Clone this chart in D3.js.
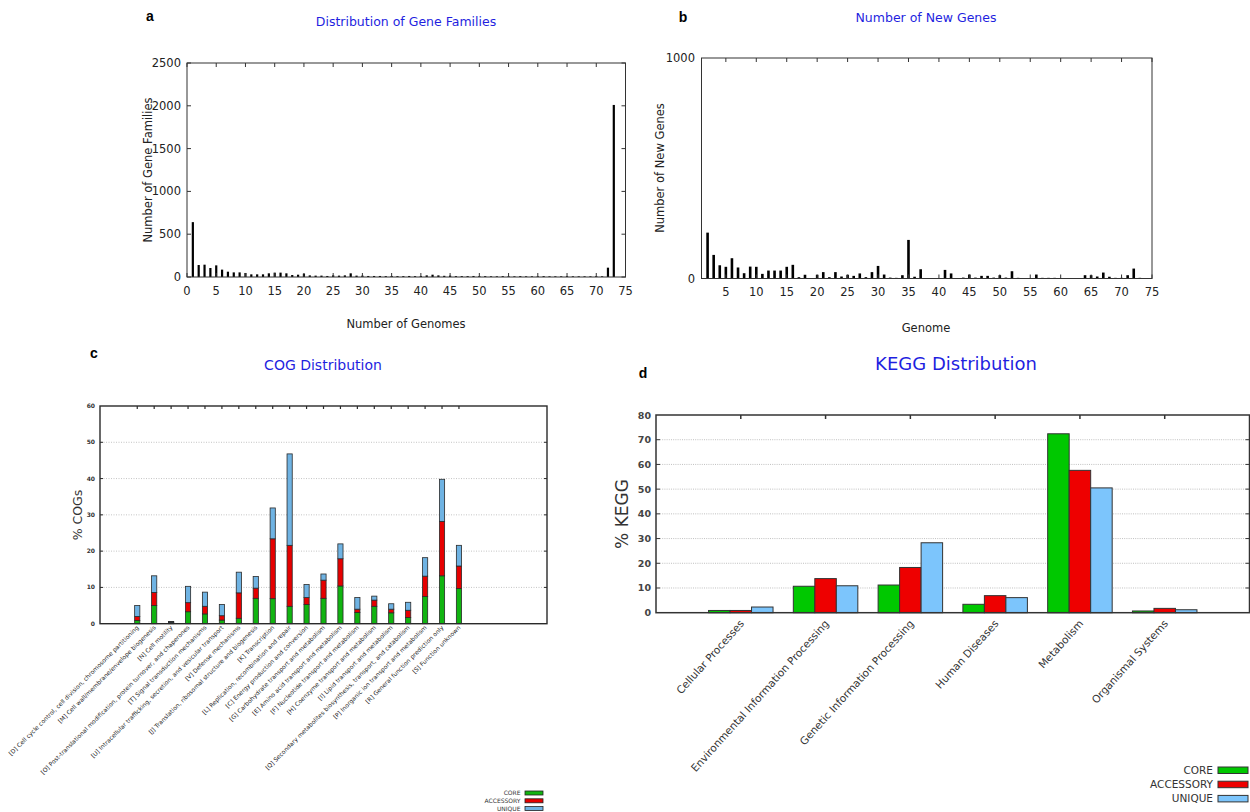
<!DOCTYPE html>
<html>
<head>
<meta charset="utf-8">
<script src="https://cdn.jsdelivr.net/npm/d3@7"></script>
<style>
body { margin: 0; background: #fff; }
text { font-family: "DejaVu Sans", sans-serif; }
</style>
</head>
<body>
<div id="chart"></div>
<script>
// ---- data ----
// a: number of gene families shared by n genomes (n = 1..73)
var familyCounts = [641, 140, 144, 105, 136, 86, 62, 54, 54, 47,
                    31, 31, 31, 43, 51, 51, 43, 23, 27, 39,
                    19, 16, 16, 12, 19, 16, 19, 43, 16, 16,
                    12, 12, 12, 10, 12, 10, 10, 12, 10, 12,
                    19, 27, 19, 14, 16, 10, 10, 10, 12, 10,
                    10, 8, 8, 10, 8, 8, 10, 8, 8, 8,
                    10, 8, 8, 8, 10, 8, 8, 8, 8, 10,
                    8, 109, 2010];
// b: new genes added by genome n (n = 2..73)
var newGenes = [208, 107, 60, 53, 92, 50, 24, 54, 53, 21,
                36, 36, 36, 53, 62, 6, 17, 0, 17, 29,
                6, 29, 9, 17, 12, 23, 6, 29, 57, 18,
                4, 3, 15, 175, 8, 42, 2, 2, 0, 39,
                23, 0, 4, 18, 4, 12, 12, 4, 15, 4,
                33, 3, 0, 0, 18, 3, 3, 3, 0, 0,
                0, 0, 15, 15, 9, 27, 8, 3, 3, 15,
                45, 3];

// c: COG distribution
var cogCategories = [
  "[D] Cell cycle control, cell division, chromosome partitioning",
  "[M] Cell wall/membrane/envelope biogenesis",
  "[N] Cell motility",
  "[O] Post-translational modification, protein turnover, and chaperones",
  "[T] Signal transduction mechanisms",
  "[U] Intracellular trafficking, secretion, and vesicular transport",
  "[V] Defense mechanisms",
  "[J] Translation, ribosomal structure and biogenesis",
  "[K] Transcription",
  "[L] Replication, recombination and repair",
  "[C] Energy production and conversion",
  "[G] Carbohydrate transport and metabolism",
  "[E] Amino acid transport and metabolism",
  "[F] Nucleotide transport and metabolism",
  "[H] Coenzyme transport and metabolism",
  "[I] Lipid transport and metabolism",
  "[Q] Secondary metabolites biosynthesis, transport, and catabolism",
  "[P] Inorganic ion transport and metabolism",
  "[R] General function prediction only",
  "[S] Function unknown"
];
var cogCore      = [0.9, 5.0, 0.3, 3.3, 2.7, 1.0, 1.5, 7.0, 6.9, 4.8, 5.3, 7.0, 10.4, 3.1, 4.8, 3.0, 1.7, 7.5, 13.2, 9.7];
var cogAccessory = [1.1, 3.6, 0.1, 2.5, 2.1, 1.2, 7.0, 2.8, 16.5, 16.8, 1.9, 5.0, 7.5, 0.9, 1.7, 1.0, 2.0, 5.6, 15.0, 6.2];
var cogUnique    = [3.0, 4.6, 0.2, 4.5, 3.9, 3.1, 5.7, 3.2, 8.5, 25.2, 3.6, 1.7, 4.1, 3.2, 1.1, 1.5, 2.2, 5.1, 11.6, 5.7];

// d: KEGG distribution
var keggCategories = ["Cellular Processes", "Environmental Information Processing",
                      "Genetic Information Processing", "Human Diseases",
                      "Metabolism", "Organismal Systems"];
var keggCore      = [0.9, 10.7, 11.2, 3.4, 72.4, 0.7];
var keggAccessory = [0.9, 13.8, 18.3, 6.9, 57.6, 1.75];
var keggUnique    = [2.3, 10.9, 28.3, 6.1, 50.5, 1.2];

var groups = ["CORE", "ACCESSORY", "UNIQUE"];
var cogColors  = ["#11b411", "#e60000", "#6fb3e3"];
var keggColors = ["#00c800", "#ee0000", "#7cc5fc"];
var titleColor = "#1f1fe0";

var svg = d3.select("#chart").append("svg")
    .attr("width", 1250)
    .attr("height", 812);

// gnuplot style frame with inward ticks
function frame(g, x, y, xt, yt, opts) {
    var x0 = x.range()[0], x1 = x.range()[1],
        y0 = y.range()[0], y1 = y.range()[1];
    g.append("rect")
        .attr("x", x0).attr("y", y1)
        .attr("width", x1 - x0).attr("height", y0 - y1)
        .attr("fill", "none")
        .attr("stroke", opts.stroke)
        .attr("stroke-width", opts.sw);
    var tl = opts.tick;
    xt.forEach(function(v) {
        if (opts.bottomTicks)
            g.append("line").attr("x1", x(v)).attr("x2", x(v)).attr("y1", y0).attr("y2", y0 - tl)
                .attr("stroke", opts.stroke);
        if (opts.topTicks)
            g.append("line").attr("x1", x(v)).attr("x2", x(v)).attr("y1", y1).attr("y2", y1 + tl)
                .attr("stroke", opts.stroke).attr("stroke-width", opts.tsw || 1);
    });
    yt.forEach(function(v) {
        g.append("line").attr("x1", x0).attr("x2", x0 + tl).attr("y1", y(v)).attr("y2", y(v))
            .attr("stroke", opts.stroke);
        g.append("line").attr("x1", x1).attr("x2", x1 - tl).attr("y1", y(v)).attr("y2", y(v))
            .attr("stroke", opts.stroke);
    });
}

function label(txt, x, y, size, opts) {
    opts = opts || {};
    var t = svg.append("text")
        .attr("x", x).attr("y", y)
        .attr("font-size", size)
        .attr("text-anchor", opts.anchor || "middle")
        .attr("fill", opts.fill || "#222")
        .text(txt);
    if (opts.weight) t.attr("font-weight", opts.weight);
    if (opts.family) t.style("font-family", opts.family);
    if (opts.rotate) t.attr("transform", "rotate(" + opts.rotate + "," + x + "," + y + ")");
    return t;
}

// ---------- panel a ----------
(function() {
    var x = d3.scaleLinear().domain([0, 75]).range([187, 625.5]);
    var y = d3.scaleLinear().domain([0, 2500]).range([277, 63]);
    var g = svg.append("g");
    var xt = d3.range(0, 76, 5), yt = d3.range(0, 2501, 500);

    g.selectAll("rect.bar").data(familyCounts).join("rect")
        .attr("class", "bar")
        .attr("x", function(d, i) { return x(i + 1) - 1.1; })
        .attr("width", 2.2)
        .attr("y", function(d) { return y(d); })
        .attr("height", function(d) { return y(0) - y(d); })
        .attr("fill", "#000");

    frame(g, x, y, xt, yt, {stroke: "#333", sw: 1, tick: 4, topTicks: true, bottomTicks: true});

    xt.forEach(function(v) { label(v, x(v), 294.5, 11.5); });
    yt.forEach(function(v) { label(v, 181, y(v) + 4, 11.5, {anchor: "end"}); });

    label("Number of Genomes", 406, 328, 11.5);
    label("Number of Gene Families", 152, 170, 11.5, {rotate: -90});
    label("Distribution of Gene Families", 406, 26, 12.5, {fill: titleColor});
    label("a", 150, 21, 14, {weight: "bold", family: "Liberation Sans", fill: "#000"});
})();

// ---------- panel b ----------
(function() {
    var x = d3.scaleLinear().domain([1, 75]).range([701.5, 1152]);
    var y = d3.scaleLinear().domain([0, 1000]).range([278.5, 58]);
    var g = svg.append("g");
    var xt = d3.range(5, 76, 5);

    g.selectAll("rect.bar").data(newGenes).join("rect")
        .attr("class", "bar")
        .attr("x", function(d, i) { return x(i + 2) - 1.3; })
        .attr("width", 2.6)
        .attr("y", function(d) { return y(d); })
        .attr("height", function(d) { return y(0) - y(d); })
        .attr("fill", "#000");

    frame(g, x, y, xt, [], {stroke: "#333", sw: 1, tick: 4, topTicks: true, bottomTicks: true});

    xt.forEach(function(v) { label(v, x(v), 296, 11.5); });
    [0, 1000].forEach(function(v) { label(v, 695, y(v) + 4, 11.5, {anchor: "end"}); });

    label("Genome", 926, 332, 11.5);
    label("Number of New Genes", 664, 168, 11.5, {rotate: -90});
    label("Number of New Genes", 926, 22, 12.5, {fill: titleColor});
    label("b", 683, 22, 14, {weight: "bold", family: "Liberation Sans", fill: "#000"});
})();

// ---------- panel c : COG ----------
(function() {
    var x = d3.scaleLinear().domain([-1.2, 25.2]).range([100, 547]);
    var y = d3.scaleLinear().domain([0, 60]).range([623.7, 406]);
    var g = svg.append("g");
    var yt = d3.range(0, 61, 10);

    yt.slice(1, -1).forEach(function(v) {
        g.append("line").attr("x1", 101).attr("x2", 546)
            .attr("y1", y(v)).attr("y2", y(v))
            .attr("stroke", "#b5b5b5").attr("stroke-width", 0.8)
            .attr("stroke-dasharray", "1,1.5");
    });

    var rows = cogCategories.map(function(c, i) {
        return {i: i + 1, CORE: cogCore[i], ACCESSORY: cogAccessory[i], UNIQUE: cogUnique[i]};
    });
    var stack = d3.stack().keys(groups)(rows);

    stack.forEach(function(layer, k) {
        g.selectAll("rect.s" + k).data(layer).join("rect")
            .attr("class", "s" + k)
            .attr("x", function(d) { return x(d.data.i) - 2.6; })
            .attr("width", 5.2)
            .attr("y", function(d) { return y(d[1]); })
            .attr("height", function(d) { return y(d[0]) - y(d[1]); })
            .attr("fill", cogColors[k])
            .attr("stroke", "#2a2a2a")
            .attr("stroke-width", 0.8);
    });

    frame(g, x, y, d3.range(1, 21), yt.slice(1, -1),
          {stroke: "#2a2a2a", sw: 1.4, tick: 3, topTicks: true, bottomTicks: false, tsw: 1.2});

    yt.forEach(function(v) {
        label(v, 95, y(v) + 2, 6, {anchor: "end", weight: "bold", fill: "#333"});
    });
    cogCategories.forEach(function(c, i) {
        label(c, x(i + 1) + 2, 628, 6, {anchor: "end", rotate: -45, fill: "#222"});
    });

    label("% COGs", 82, 515, 12.5, {rotate: -90, fill: "#333"});
    label("COG Distribution", 323, 370, 14, {fill: titleColor});
    label("c", 94, 358, 14, {weight: "bold", family: "Liberation Sans", fill: "#000"});

    groups.forEach(function(gname, k) {
        var yy = 793 + k * 7.8;
        label(gname, 520.5, yy + 2, 6, {anchor: "end", fill: "#333"});
        svg.append("rect").attr("x", 525).attr("y", yy - 2)
            .attr("width", 18).attr("height", 4)
            .attr("fill", cogColors[k]).attr("stroke", "#222").attr("stroke-width", 0.8);
    });
})();

// ---------- panel d : KEGG ----------
(function() {
    var x = d3.scaleLinear().domain([0, 7]).range([656, 1249.5]);
    var y = d3.scaleLinear().domain([0, 80]).range([612.7, 415]);
    var g = svg.append("g");
    var yt = d3.range(0, 81, 10);
    var bw = 21.5;

    yt.slice(1, -1).forEach(function(v) {
        g.append("line").attr("x1", 660).attr("x2", 1248)
            .attr("y1", y(v)).attr("y2", y(v))
            .attr("stroke", "#b9b9b9").attr("stroke-width", 0.9)
            .attr("stroke-dasharray", "1,1.2");
    });

    var series = [keggCore, keggAccessory, keggUnique];
    series.forEach(function(vals, k) {
        g.selectAll("rect.k" + k).data(vals).join("rect")
            .attr("class", "k" + k)
            .attr("x", function(d, i) { return x(i + 1) + (k - 1.5) * bw; })
            .attr("width", bw)
            .attr("y", function(d) { return y(d); })
            .attr("height", function(d) { return y(0) - y(d); })
            .attr("fill", keggColors[k])
            .attr("stroke", "#333")
            .attr("stroke-width", 1);
    });

    frame(g, x, y, d3.range(1, 7), yt.slice(1, -1),
          {stroke: "#333", sw: 1.5, tick: 4, topTicks: true, bottomTicks: false, tsw: 1.5});

    yt.forEach(function(v) {
        label(v, 651, y(v) + 3.5, 9.5, {anchor: "end", weight: "bold", fill: "#444"});
    });
    keggCategories.forEach(function(c, i) {
        label(c, x(i + 1) + 4, 624, 10.5, {anchor: "end", rotate: -48, fill: "#333"});
    });

    label("% KEGG", 628, 514, 17, {rotate: -90, fill: "#333"});
    label("KEGG Distribution", 956, 370, 18, {fill: titleColor});
    label("d", 643, 378, 14, {weight: "bold", family: "Liberation Sans", fill: "#000"});

    groups.forEach(function(gname, k) {
        var yy = 770 + k * 14.2;
        label(gname, 1213, yy + 4, 10.5, {anchor: "end", fill: "#333"});
        svg.append("rect").attr("x", 1218).attr("y", yy - 3)
            .attr("width", 30).attr("height", 6.5)
            .attr("fill", keggColors[k]).attr("stroke", "#333").attr("stroke-width", 1);
    });
})();
</script>
</body>
</html>
